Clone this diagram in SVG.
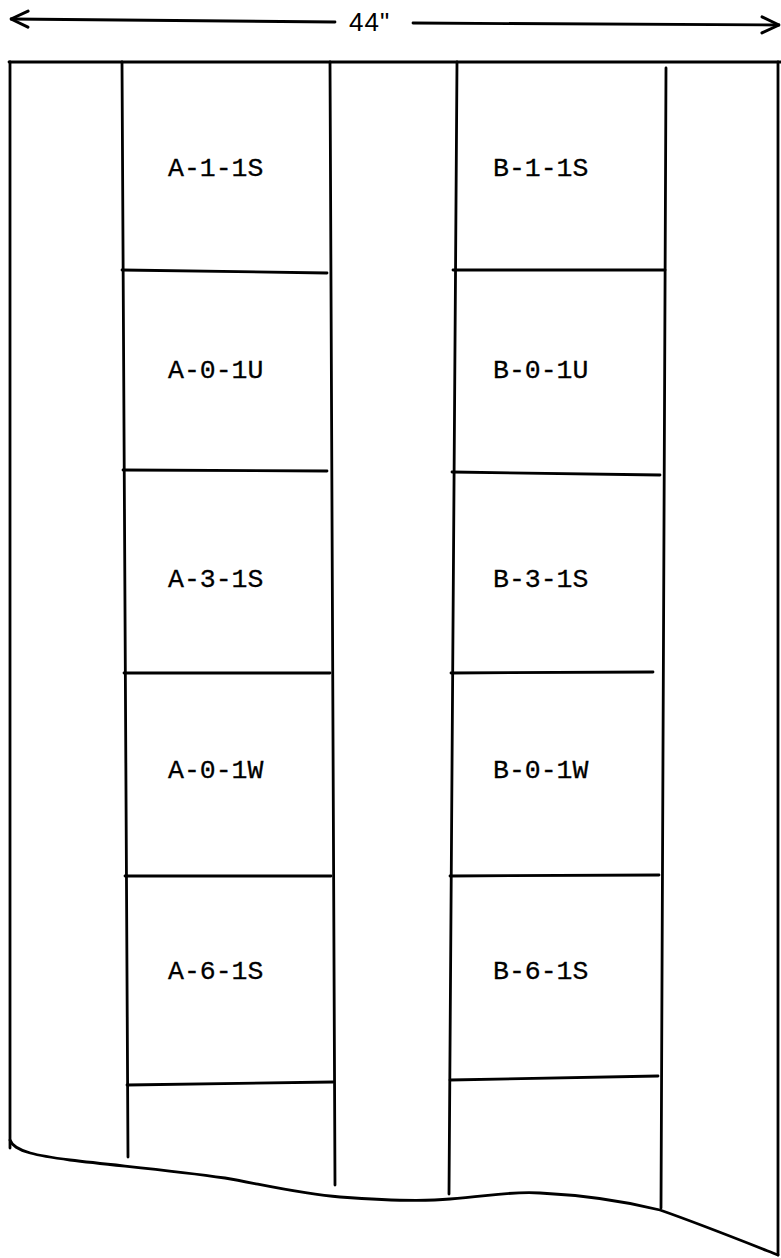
<svg xmlns="http://www.w3.org/2000/svg" width="781" height="1258" viewBox="0 0 781 1258">
<style>
.ln{stroke:#000;stroke-width:2.8;fill:none;stroke-linecap:round;stroke-linejoin:round}
.lb{font-family:"Liberation Mono","Courier New",monospace;font-size:26.5px;fill:#000;stroke:#000;stroke-width:0.3}
.dim{font-family:"Liberation Sans",Arial,sans-serif;font-size:26px;fill:#000;letter-spacing:1px}
</style>
<defs>
<marker id="ah" viewBox="0 0 20 20" refX="19" refY="10" markerWidth="20" markerHeight="20" markerUnits="userSpaceOnUse" orient="auto-start-reverse">
<path d="M2,2 L19,10 L2,18" fill="none" stroke="#000" stroke-width="3" stroke-linecap="round" stroke-linejoin="round"/>
</marker>
</defs>
<rect width="781" height="1258" fill="#fff"/>
<g id="dimension">
<path class="ln" d="M11,19 L335,22" marker-start="url(#ah)"/>
<path class="ln" d="M413,23 L779,25" marker-end="url(#ah)"/>
<text class="dim" x="349" y="31">44"</text>
</g>
<g id="outline">
<path class="ln" d="M9,62 L781,62"/>
<path class="ln" d="M10,62 L10,1148"/>
<path class="ln" d="M778,62 L778,1255"/>
<path class="ln" d="M10,1140 C14,1152 40,1156 70,1160 C120,1166 170,1170 225,1178 C260,1184 300,1194 340,1197 C380,1200 420,1202 450,1199 C490,1196 510,1191 540,1193 C580,1195 620,1200 660,1210 C700,1224 740,1240 778,1255"/>
</g>
<g id="columns">
<path class="ln" d="M122,62 L128,1157"/>
<path class="ln" d="M330,62 L335,1185"/>
<path class="ln" d="M457,62 L449,1194"/>
<path class="ln" d="M666,68 L661,1208"/>
</g>
<g id="A-1-1S"><path class="ln" d="M122,270 L327,273"/><text class="lb" x="168" y="176">A-1-1S</text></g>
<g id="A-0-1U"><path class="ln" d="M123,470 L327,471"/><text class="lb" x="168" y="378">A-0-1U</text></g>
<g id="A-3-1S"><path class="ln" d="M124,673 L330,673"/><text class="lb" x="168" y="587">A-3-1S</text></g>
<g id="A-0-1W"><path class="ln" d="M125,876 L331,876"/><text class="lb" x="168" y="778">A-0-1W</text></g>
<g id="A-6-1S"><path class="ln" d="M127,1085 L333,1082"/><text class="lb" x="168" y="979">A-6-1S</text></g>
<g id="B-1-1S"><path class="ln" d="M453,270 L665,270"/><text class="lb" x="493" y="176">B-1-1S</text></g>
<g id="B-0-1U"><path class="ln" d="M452,472 L660,475"/><text class="lb" x="493" y="378">B-0-1U</text></g>
<g id="B-3-1S"><path class="ln" d="M451,673 L653,672"/><text class="lb" x="493" y="587">B-3-1S</text></g>
<g id="B-0-1W"><path class="ln" d="M450,876 L659,875"/><text class="lb" x="493" y="778">B-0-1W</text></g>
<g id="B-6-1S"><path class="ln" d="M450,1080 L658,1076"/><text class="lb" x="493" y="979">B-6-1S</text></g>
</svg>
